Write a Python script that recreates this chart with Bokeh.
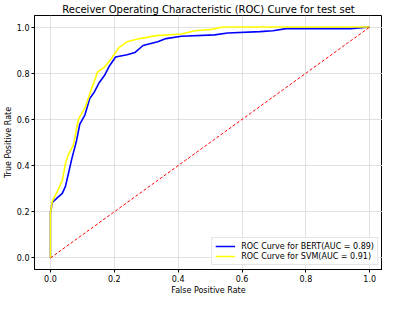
from bokeh.plotting import figure
from bokeh.models import Range1d, Legend, LegendItem, FixedTicker, NumeralTickFormatter
from bokeh.embed import file_html
from bokeh.resources import INLINE

bert_fpr = [0, 0.0, 0.006, 0.021, 0.037, 0.047, 0.057, 0.067, 0.082, 0.092, 0.108, 0.123, 0.138, 0.153,
            0.169, 0.184, 0.204, 0.24, 0.265, 0.29, 0.336, 0.362, 0.41, 0.514, 0.555, 0.656, 0.697, 0.738,
            0.94, 1.0]
bert_tpr = [0, 0.2, 0.24, 0.26, 0.28, 0.31, 0.37, 0.43, 0.51, 0.58, 0.62, 0.69, 0.72, 0.76,
            0.79, 0.83, 0.87, 0.88, 0.89, 0.92, 0.936, 0.95, 0.96, 0.966, 0.974, 0.98, 0.984, 0.993,
            0.993, 1.0]
svm_fpr = [0, 0.0, 0.006, 0.021, 0.037, 0.047, 0.057, 0.072, 0.0875, 0.108, 0.128, 0.148, 0.169, 0.189,
           0.214, 0.24, 0.28, 0.331, 0.41, 0.453, 0.504, 0.54, 1.0]
svm_tpr = [0, 0.2, 0.246, 0.287, 0.335, 0.41, 0.45, 0.49, 0.60, 0.65, 0.73, 0.806, 0.826, 0.86,
           0.91, 0.936, 0.95, 0.963, 0.97, 0.984, 0.99, 1.0, 1.0]
diag = [0, 1]
ticks = [0.0, 0.2, 0.4, 0.6, 0.8, 1.0]

FONT = "DejaVu Sans"

p = figure(width=382, height=297, output_backend="svg", toolbar_location=None,
           x_range=Range1d(-0.05, 1.04), y_range=Range1d(-0.05, 1.05),
           title="Receiver Operating Characteristic (ROC) Curve for test set",
           min_border_left=0, min_border_right=0, min_border_top=0, min_border_bottom=0)

p.title.text_font = FONT
p.title.text_font_size = "10px"
p.title.text_font_style = "normal"
p.title.text_color = "black"
p.title.align = "center"
p.title.standoff = 2

for ax in (p.xaxis[0], p.yaxis[0]):
    ax.ticker = FixedTicker(ticks=ticks)
    ax.formatter = NumeralTickFormatter(format="0.0")
    ax.major_label_text_font = FONT
    ax.major_label_text_font_size = "8px"
    ax.major_label_text_color = "black"
    ax.axis_label_text_font = FONT
    ax.axis_label_text_font_size = "8px"
    ax.axis_label_text_font_style = "normal"
    ax.axis_label_text_color = "black"
    ax.minor_tick_line_color = None
    ax.major_tick_out = 3
    ax.major_tick_in = 0
    ax.axis_line_color = "black"
    ax.major_tick_line_color = "black"
    ax.axis_label_standoff = 1
    ax.major_label_standoff = 2
p.xaxis.axis_label = "False Positive Rate"
p.yaxis.axis_label = "True Positive Rate"

p.outline_line_color = "black"
p.outline_line_alpha = 1
p.grid.grid_line_color = "#d9d9d9"
p.grid.grid_line_alpha = 0.8

r_bert = p.line(bert_fpr, bert_tpr, line_color="blue", line_width=1.6)
r_svm = p.line(svm_fpr, svm_tpr, line_color="yellow", line_width=1.6)
p.line(diag, diag, line_color="red", line_width=1, line_dash="3 2")

legend = Legend(items=[LegendItem(label="ROC Curve for BERT(AUC = 0.89)", renderers=[r_bert]),
                       LegendItem(label="ROC Curve for SVM(AUC = 0.91)", renderers=[r_svm])],
                location="bottom_right")
legend.label_text_font = FONT
legend.label_text_font_size = "8px"
legend.label_text_color = "black"
legend.label_height = 10
legend.glyph_height = 10
legend.glyph_width = 20
legend.spacing = 0
legend.padding = 3
legend.margin = 4
legend.label_standoff = 6
legend.border_line_color = "#cccccc"
legend.background_fill_alpha = 0.85
p.add_layout(legend)

open("out.html", "w").write(file_html(p, INLINE))
